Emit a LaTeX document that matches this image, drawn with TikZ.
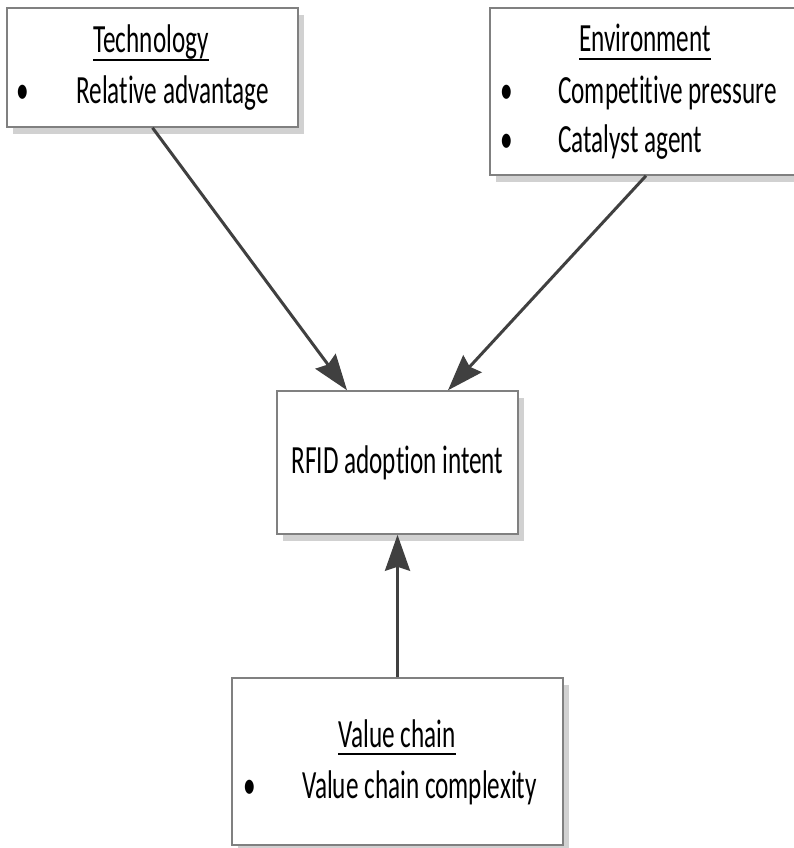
\documentclass[tikz,border=0pt]{standalone}
\usepackage{fontspec}
\setmainfont{Carlito}[FakeStretch=0.63, Ligatures=NoCommon]
\usetikzlibrary{arrows.meta,shadows}

\begin{document}
\begin{tikzpicture}
	[x=1pt, y=-1pt,
	 every node/.style={font=\fontsize{40}{44}\selectfont},
	 box/.style={rectangle, draw=black!50, line width=1.5pt, fill=white, inner sep=0pt,
		drop shadow={shadow xshift=6pt, shadow yshift=-7pt, fill=black!18, opacity=1}},
	 title/.style={anchor=base, inner sep=0pt},
	 item/.style={anchor=base west, inner sep=0pt},
	 dot/.style={anchor=base, inner sep=0pt},
	 uline/.style={line width=1.8pt},
	 conn/.style={draw=black!75, line width=3pt, -{Stealth[length=36pt, width=25pt, inset=4pt]}}]
	\useasboundingbox (0,0) rectangle (794,848);
	% boxes
	\node[box, minimum width=291pt, minimum height=119pt] (tech) at (152.5,67.5) {};
	\node[box, minimum width=312pt, minimum height=167pt] (env) at (646,91.5) {};
	\node[box, minimum width=241pt, minimum height=143pt] (rfid) at (397.5,462.5) {RFID adoption intent};
	\node[box, minimum width=331pt, minimum height=167pt] (value) at (397.5,761.5) {};
	% box texts
	\node[title] (techtitle) at (151,53) {Technology};
	\node[dot] (techdot) at (23,104) {•};
	\node[item] (techitem) at (76,104) {Relative advantage};
	\node[title] (envtitle) at (645,52) {Environment};
	\node[dot] (envdot1) at (507,103) {•};
	\node[item] (envitem1) at (558,103) {Competitive pressure};
	\node[dot] (envdot2) at (507,153) {•};
	\node[item] (envitem2) at (558,153) {Catalyst agent};
	\node[title] (valuetitle) at (397,747) {Value chain};
	\node[dot] (valuedot) at (250,798) {•};
	\node[item] (valueitem) at (302,798) {Value chain complexity};
	\foreach \t in {techtitle, envtitle, valuetitle}
		\draw[uline] ([yshift=-7pt]\t.base west) -- ([yshift=-7pt]\t.base east);
	% arrows
	\draw[conn] (tech.south) -- ([xshift=-50.5pt]rfid.north);
	\draw[conn] (env.south) -- ([xshift=50.5pt]rfid.north);
	\draw[conn] (value.north) -- (rfid.south);
\end{tikzpicture}
\end{document}
